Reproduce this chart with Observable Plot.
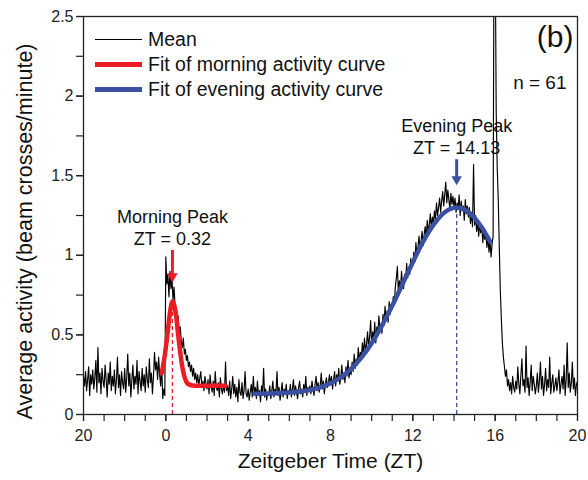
<!DOCTYPE html>
<html><head><meta charset="utf-8">
<script src="https://cdn.jsdelivr.net/npm/d3@7"></script>
<script src="https://cdn.jsdelivr.net/npm/@observablehq/plot@0.6"></script>
<style>
body{margin:0;background:#fff;}
#wrap{position:relative;width:588px;height:480px;font-family:"Liberation Sans",Arial,sans-serif;}
#legend{position:absolute;left:95px;top:27px;}
.row{display:flex;align-items:center;height:25px;font-size:19.5px;color:#111;white-space:nowrap;}
.sw{width:47px;margin-right:6px;}
</style></head><body><div id="wrap"></div>
<script>
// ---- data ----
const startZT = -4;
const stepZT = 0.05;
const meanActivity = [
  0.24,0.18,0.27,0.15,0.22,0.30,0.12,0.25,0.19,0.28,0.16,0.23,0.34,0.14,0.42,0.20,0.26,0.13,0.29,0.21,
  0.17,0.31,0.22,0.11,0.26,0.19,0.33,0.15,0.24,0.18,0.28,0.13,0.22,0.36,0.17,0.25,0.12,0.27,0.20,0.16,
  0.29,0.14,0.23,0.38,0.18,0.26,0.11,0.22,0.31,0.16,0.24,0.19,0.34,0.13,0.27,0.21,0.15,0.29,0.18,0.25,
  0.14,0.30,0.22,0.17,0.35,0.20,0.26,0.13,0.24,0.39,0.28,0.33,0.22,0.36,0.25,0.18,0.31,0.10,0.16,0.12,
  0.99,0.82,0.88,0.74,0.90,0.79,0.85,0.72,0.80,0.68,0.64,0.58,0.62,0.50,0.55,0.46,0.42,0.48,0.38,0.41,
  0.34,0.37,0.30,0.33,0.27,0.31,0.24,0.29,0.22,0.26,0.20,0.25,0.18,0.23,0.27,0.17,0.21,0.15,0.24,0.19,
  0.16,0.22,0.13,0.25,0.18,0.14,0.21,0.12,0.27,0.17,0.15,0.20,0.11,0.23,0.16,0.13,0.19,0.14,0.33,0.15,
  0.18,0.12,0.21,0.10,0.16,0.24,0.13,0.19,0.11,0.17,0.08,0.22,0.14,0.12,0.20,0.10,0.15,0.27,0.13,0.11,
  0.16,0.09,0.14,0.19,0.11,0.24,0.13,0.17,0.10,0.21,0.12,0.15,0.08,0.18,0.13,0.29,0.11,0.16,0.09,0.14,
  0.12,0.18,0.10,0.15,0.21,0.11,0.16,0.13,0.27,0.12,0.17,0.09,0.14,0.20,0.11,0.16,0.13,0.19,0.10,0.15,
  0.13,0.19,0.11,0.16,0.22,0.12,0.18,0.14,0.10,0.17,0.21,0.13,0.16,0.11,0.19,0.14,0.24,0.12,0.17,0.15,
  0.18,0.13,0.21,0.16,0.12,0.19,0.24,0.15,0.20,0.14,0.18,0.26,0.16,0.21,0.13,0.19,0.23,0.17,0.20,0.25,
  0.19,0.24,0.16,0.22,0.27,0.18,0.25,0.21,0.29,0.19,0.23,0.31,0.22,0.26,0.20,0.30,0.24,0.34,0.23,0.28,
  0.25,0.33,0.27,0.38,0.29,0.35,0.31,0.42,0.33,0.39,0.36,0.45,0.37,0.48,0.40,0.44,0.52,0.42,0.49,0.59,
  0.43,0.52,0.47,0.58,0.45,0.55,0.50,0.62,0.53,0.57,0.51,0.63,0.56,0.68,0.60,0.65,0.58,0.71,0.63,0.69,
  0.66,0.74,0.70,0.80,0.86,0.93,0.76,0.84,0.78,0.90,0.82,0.79,0.88,0.84,0.95,0.86,0.92,0.88,0.98,0.93,
  0.94,1.02,0.96,1.08,1.00,1.05,1.12,1.04,1.09,1.15,1.06,1.13,1.18,1.10,1.22,1.15,1.19,1.26,1.17,1.24,
  1.20,1.28,1.22,1.33,1.25,1.30,1.36,1.27,1.34,1.40,1.31,1.38,1.46,1.33,1.41,1.35,1.29,1.39,1.32,1.37,
  1.30,1.36,1.27,1.33,1.29,1.38,1.25,1.34,1.28,1.31,1.22,1.35,1.26,1.31,1.24,1.30,1.20,1.27,1.18,1.57,
  1.19,1.25,1.15,1.22,1.12,1.20,1.14,1.18,1.08,1.16,1.10,1.13,1.05,1.12,1.02,1.09,0.99,1.07,1.12,3.30,
  3.00,1.90,1.55,1.35,1.05,0.78,0.60,0.45,0.36,0.30,0.24,0.28,0.18,0.22,0.15,0.20,0.13,0.24,0.17,0.14,
  0.21,0.16,0.30,0.19,0.13,0.25,0.35,0.18,0.22,0.14,0.43,0.17,0.23,0.12,0.20,0.31,0.15,0.24,0.19,0.13,
  0.18,0.26,0.14,0.21,0.33,0.16,0.24,0.12,0.19,0.29,0.15,0.22,0.17,0.36,0.13,0.20,0.25,0.14,0.18,0.23,
  0.15,0.21,0.28,0.13,0.19,0.24,0.16,0.31,0.12,0.22,0.45,0.17,0.26,0.14,0.20,0.33,0.16,0.23,0.12,0.19,
  0.21
];
const morningFitZT    = [-0.2, -0.1, 0.0, 0.1, 0.2, 0.32, 0.4, 0.5, 0.6, 0.7, 0.8, 0.9, 1.0, 1.1, 1.3, 1.6, 2.9];
const morningFitValue = [0.26, 0.33, 0.42, 0.53, 0.64, 0.71, 0.69, 0.62, 0.50, 0.39, 0.30, 0.24, 0.205, 0.19, 0.182, 0.18, 0.18];
const eveningFitZT    = [4.3, 5, 6, 7, 7.5, 8, 8.5, 9, 9.5, 10, 10.5, 11, 11.5, 12, 12.5, 13, 13.5, 14.13, 14.5, 15, 15.5, 15.75];
const eveningFitValue = [0.13, 0.132, 0.138, 0.154, 0.17, 0.196, 0.234, 0.287, 0.357, 0.448, 0.558, 0.684, 0.82, 0.957, 1.085, 1.19, 1.265, 1.30, 1.288, 1.234, 1.144, 1.087];
const peakNames  = ["Morning Peak", "Evening Peak"];
const peakZT     = [0.32, 14.13];
const peakValue  = [0.71, 1.30];
const arrowTop   = [1.03, 1.60];
const arrowTip   = [0.83, 1.44];
const seriesNames = ["Mean", "Fit of morning activity curve", "Fit of evening activity curve"];
const xMajorTicks = [-4, 0, 4, 8, 12, 16, 20];
const xMinorTicks = d3.range(-4, 20.01, 1);
const yMajorTicks = [0, 0.5, 1, 1.5, 2, 2.5];
const yMinorTicks = d3.range(0, 2.51, 0.25);
const panelLabel = "(b)";
const sampleLabel = "n = 61";
const xTitle = "Zeitgeber Time (ZT)";
const yTitle = "Average activity (beam crosses/minute)";

// ---- styles ----
const RED = "#ec1c24", BLUE = "#3a50a2", BLACK = "#000";
const seriesColors = [BLACK, RED, BLUE];
const seriesWidths = [1.3, 4.5, 4.5];

// ---- tables ----
const mean = meanActivity.map((v, i) => ({zt: startZT + i * stepZT, v}));
const morningFit = morningFitZT.map((zt, i) => ({zt, v: morningFitValue[i]}));
const eveningFit = eveningFitZT.map((zt, i) => ({zt, v: eveningFitValue[i]}));
const peaks = peakNames.map((name, i) => ({
  name, zt: peakZT[i], v: peakValue[i], top: arrowTop[i], tip: arrowTip[i],
  color: i === 0 ? RED : BLUE,
  label: `${name}\nZT = ${peakZT[i].toFixed(2)}`
}));
const fmtX = d => String(d < 0 ? d + 24 : d);

const chart = Plot.plot({
  width: 588, height: 480,
  marginLeft: 83, marginRight: 11, marginTop: 16, marginBottom: 66,
  x: {domain: [-4, 20], label: null},
  y: {domain: [0, 2.5], label: null},
  style: {fontFamily: "Liberation Sans, Arial, sans-serif", fontSize: "16px", color: "#222", background: "white"},
  marks: [
    Plot.axisX({ticks: xMinorTicks, tickSize: 7, text: null, label: null, strokeWidth: 1.2}),
    Plot.axisX({ticks: xMajorTicks, tickSize: 7, tickPadding: 8, tickFormat: fmtX, label: null, strokeWidth: 1.2, fontSize: 16}),
    Plot.axisY({ticks: yMinorTicks, tickSize: 7, text: null, label: null, strokeWidth: 1.2}),
    Plot.axisY({ticks: yMajorTicks, tickSize: 7, tickPadding: 3, tickFormat: d => String(d), label: null, strokeWidth: 1.2, fontSize: 16}),
    Plot.ruleX(peaks, {x: "zt", y1: 0, y2: "v", stroke: "color", strokeWidth: 1.3, strokeDasharray: "4,3"}),
    Plot.line(mean, {x: "zt", y: "v", stroke: BLACK, strokeWidth: 1.15, clip: true}),
    Plot.line(morningFit, {x: "zt", y: "v", stroke: RED, strokeWidth: 4.5, curve: "monotone-x"}),
    Plot.line(eveningFit, {x: "zt", y: "v", stroke: BLUE, strokeWidth: 4.5, curve: "monotone-x"}),
    Plot.ruleX(peaks, {x: "zt", y1: "top", y2: "tip", stroke: "color", strokeWidth: 3, insetBottom: 5}),
    Plot.dot(peaks, {x: "zt", y: "tip", symbol: "triangle", r: 3.9, fill: "color", stroke: "none", rotate: 180, dy: -6}),
    Plot.text(peaks, {x: "zt", y: "top", text: "label", lineAnchor: "bottom", dy: -6, fontSize: 18, lineHeight: 1.22, fill: "#111"}),
    Plot.frame({stroke: "#222", strokeWidth: 1.3}),
    Plot.text([panelLabel], {frameAnchor: "top-right", textAnchor: "end", lineAnchor: "top", dx: -4, dy: 9, fontSize: 30, fill: "#111"}),
    Plot.text([sampleLabel], {frameAnchor: "top-right", textAnchor: "end", lineAnchor: "middle", dx: -11, dy: 66, fontSize: 19, fill: "#111"}),
    Plot.text([yTitle], {frameAnchor: "left", rotate: -90, textAnchor: "middle", lineAnchor: "middle", dx: -58, dy: 16, fontSize: 21.5, fill: "#111"}),
    Plot.text([xTitle], {frameAnchor: "bottom", textAnchor: "middle", dy: 53, fontSize: 21, fill: "#111"})
  ]
});

const wrap = document.getElementById("wrap");
wrap.appendChild(chart);
const legend = document.createElement("div");
legend.id = "legend";
seriesNames.forEach((name, i) => {
  const row = document.createElement("div");
  row.className = "row";
  const sw = document.createElement("div");
  sw.className = "sw";
  sw.style.height = seriesWidths[i] + "px";
  sw.style.background = seriesColors[i];
  const t = document.createElement("span");
  t.textContent = name;
  row.appendChild(sw); row.appendChild(t);
  legend.appendChild(row);
});
wrap.appendChild(legend);
</script></body></html>
